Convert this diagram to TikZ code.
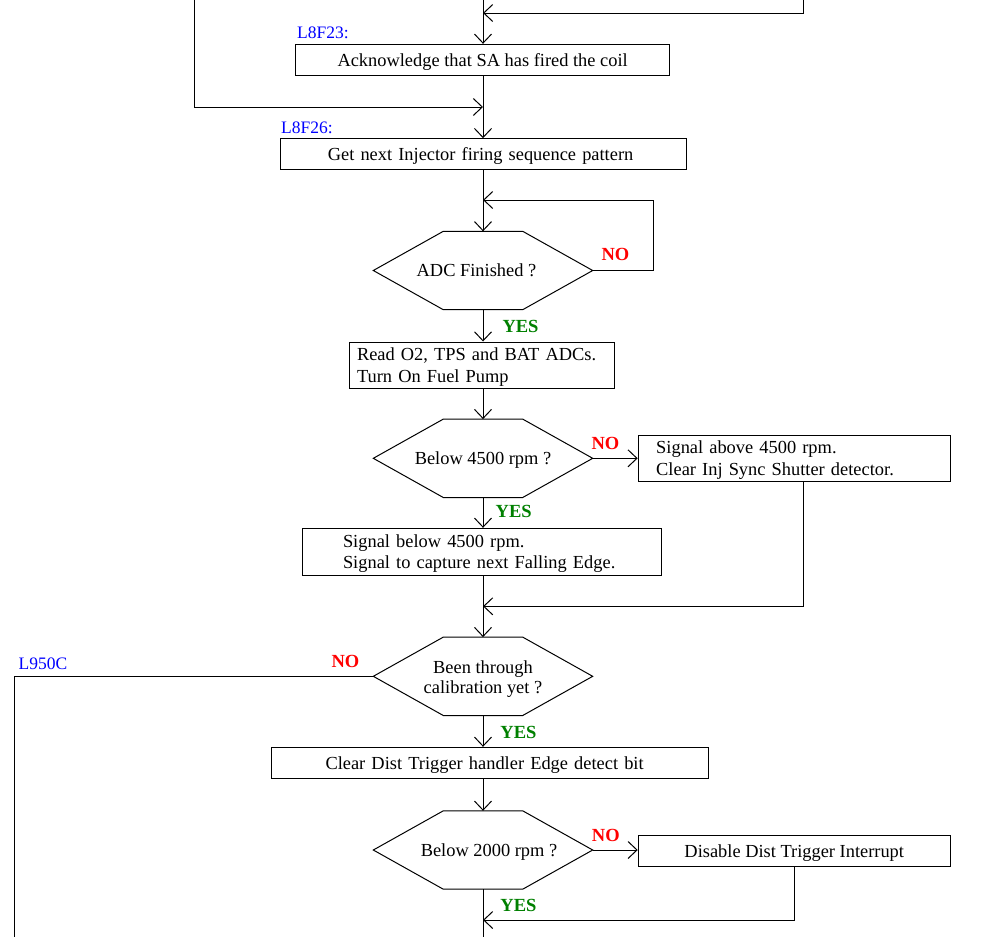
\documentclass[tikz,border=0pt]{standalone}
\usepackage{fontspec}
\setmainfont{Liberation Serif}
\usetikzlibrary{arrows.meta}
\definecolor{lblue}{RGB}{0,0,255}
\definecolor{nored}{RGB}{255,0,0}
\definecolor{yesgreen}{RGB}{0,128,0}
\newcommand\hexpath[1]{\draw[line width=1pt] (#1.west) -- ([xshift=70pt]#1.north west) -- ([xshift=-70pt]#1.north east) -- (#1.east) -- ([xshift=-70pt]#1.south east) -- ([xshift=70pt]#1.south west) -- cycle;}
\newcommand\st{\rule[-4.5pt]{0pt}{21.5pt}}
\begin{document}
\begin{tikzpicture}[x=1pt,y=-1pt,
  every node/.style={inner sep=0pt},
  body/.style={font=\fontsize{18.4}{21.5}\selectfont},
  box/.style={draw, line width=1pt, body, minimum height=31pt},
  lbox/.style={box, align=left},
  hexa/.style={body, minimum width=219pt, minimum height=78pt, align=center},
  lab/.style={text=lblue, font=\fontsize{17.5}{20}\selectfont, anchor=west},
  nolab/.style={text=nored, font=\fontsize{18.5}{20}\selectfont\bfseries},
  yeslab/.style={text=yesgreen, font=\fontsize{18.5}{20}\selectfont\bfseries},
  conn/.style={line width=1pt},
  arr/.style={conn, -{Straight Barb[length=9pt,width=17pt]}}
]
\path[use as bounding box] (0,0) rectangle (1000,937);

% boxes
\node[box, minimum width=374.3pt] (A) at (482.65,59.8) {\st Acknowledge that SA has fired the coil};
\node[lbox, text width=311.2pt, inner xsep=47pt, minimum height=30.6pt] (B) at (483.4,154) {\st Get next Injector firing sequence pattern};
\node[lbox, text width=249pt, inner xsep=8pt, minimum height=46pt] (C) at (481.5,365) {\st Read O2, TPS and BAT ADCs.\\\st Turn On Fuel Pump};
\node[lbox, text width=276.3pt, inner xsep=18pt, minimum height=45.7pt] (D) at (794.35,458.15) {\st Signal above 4500 rpm.\\\st Clear Inj Sync Shutter detector.};
\node[lbox, text width=277.6pt, inner xsep=41pt, minimum height=47pt] (E) at (481.8,551.8) {\st Signal below 4500 rpm.\\\st Signal to capture next Falling Edge.};
\node[lbox, text width=328pt, inner xsep=54.5pt] (F) at (489.5,762.8) {\st Clear Dist Trigger handler Edge detect bit};
\node[box, minimum width=312pt, minimum height=30.3pt] (G) at (794.25,850.85) {\st Disable Dist Trigger Interrupt};

% decisions
\node[hexa] (h1) at (483,270.5) {\st ADC Finished ?\rule{13pt}{0pt}};
\node[hexa] (h2) at (483,458.3) {\st Below 4500 rpm ?};
\node[hexa, font=\fontsize{18.4}{20}\selectfont] (h3) at (483,676.3) {\rule[-4.5pt]{0pt}{23pt}Been through\\\rule[-4.5pt]{0pt}{15.5pt}calibration yet ?};
\node[hexa] (h4) at (483,850) {\st\rule{12pt}{0pt}Below 2000 rpm ?};
\hexpath{h1}
\hexpath{h2}
\hexpath{h3}
\hexpath{h4}

% labels
\node[lab] (l1) at (297,33) {L8F23:};
\node[lab] (l2) at (281,128) {L8F26:};
\node[lab] (l3) at (18.4,664) {L950C};
\node[nolab] (n1) at (615.5,254.5) {NO};
\node[yeslab] (y1) at (520.5,326) {YES};
\node[nolab] (n2) at (605.5,443) {NO};
\node[yeslab] (y2) at (513.7,511.7) {YES};
\node[nolab] (n3) at (345.5,661) {NO};
\node[yeslab] (y3) at (518.4,732.3) {YES};
\node[nolab] (n4) at (605.8,835) {NO};
\node[yeslab] (y4) at (518.4,905) {YES};

% coordinates
\coordinate (X) at (483,0);
\coordinate (topR) at (803,0);
\coordinate (topL) at (194,0);
\coordinate (m0) at (483,13);
\coordinate (m1) at (483,107);
\coordinate (m2) at (483,200);
\coordinate (lp1) at (653,200);
\coordinate (m3) at (483,606.3);
\coordinate (dR) at (803,606.3);
\coordinate (lL) at (14.7,937);
\coordinate (m4) at (483,920);
\coordinate (bot) at (483,937);

% connectors
\draw[arr] (X) -- (A.north -| X);
\draw[arr] (topR) |- (m0);
\draw[arr] (A.south -| X) -- (B.north -| X);
\draw[arr] (topL) |- (m1);
\draw[arr] (B.south -| X) -- (h1.north);
\draw[arr] (h1.east) -| (lp1) -- (m2);
\draw[arr] (h1.south) -- (C.north -| X);
\draw[arr] (C.south -| X) -- (h2.north);
\draw[arr] (h2.east) -- (h2.east -| D.west);
\draw[arr] (h2.south) -- (E.north -| X);
\draw[arr] (D.south -| dR) -- (dR) -- (m3);
\draw[arr] (E.south -| X) -- (h3.north);
\draw[conn] (h3.west) -| (lL);
\draw[arr] (h3.south) -- (F.north -| X);
\draw[arr] (F.south -| X) -- (h4.north);
\draw[arr] (h4.east) -- (h4.east -| G.west);
\draw[conn] (h4.south) -- (bot);
\draw[arr] (G.south) |- (m4);
\end{tikzpicture}
\end{document}
